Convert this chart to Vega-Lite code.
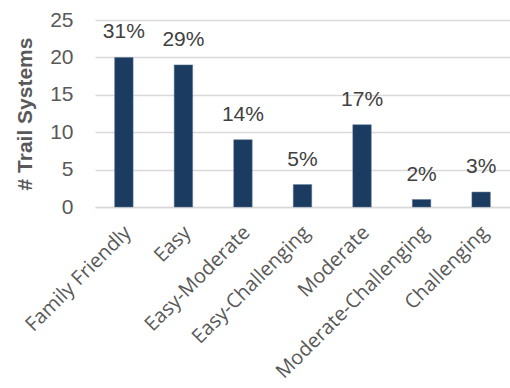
{
  "$schema": "https://vega.github.io/schema/vega-lite/v6.json",
  "autosize": "none",
  "width": 415,
  "height": 187,
  "padding": {"left": 95, "top": 20, "right": 0, "bottom": 181},
  "background": "white",
  "data": {"values": [
    {"cat": "Family Friendly", "n": 20, "pct": "31%"},
    {"cat": "Easy", "n": 19, "pct": "29%"},
    {"cat": "Easy-Moderate", "n": 9, "pct": "14%"},
    {"cat": "Easy-Challenging", "n": 3, "pct": "5%"},
    {"cat": "Moderate", "n": 11, "pct": "17%"},
    {"cat": "Moderate-Challenging", "n": 1, "pct": "2%"},
    {"cat": "Challenging", "n": 2, "pct": "3%"}
  ]},
  "config": {
    "view": {"stroke": null},
    "font": "Liberation Sans"
  },
  "encoding": {
    "x": {
      "field": "cat", "type": "nominal", "sort": null,
      "scale": {"paddingInner": 0.69, "paddingOuter": 0.33},
      "axis": {
        "title": null, "labelAngle": -45, "labelFontSize": 20, "labelColor": "#595959",
        "labelFont": "Open Sans",
        "ticks": false, "domainColor": "#d9d9d9", "domainWidth": 1.5, "labelPadding": 15,
        "labelOffset": -3,
        "labelLimit": 400
      }
    },
    "y": {
      "field": "n", "type": "quantitative",
      "scale": {"domain": [0, 25]},
      "axis": {
        "values": [0, 5, 10, 15, 20, 25], "title": "# Trail Systems",
        "titleFontSize": 21, "titleFontWeight": "bold", "titleColor": "#595959",
        "titlePadding": 14,
        "labelFontSize": 21, "labelColor": "#595959", "labelPadding": 22,
        "ticks": false, "domain": false,
        "gridColor": "#d9d9d9", "gridWidth": 1.5
      }
    }
  },
  "layer": [
    {"mark": {"type": "bar", "color": "#1b3b60", "stroke": "#5a7594", "strokeWidth": 0.5}},
    {"mark": {"type": "text", "baseline": "bottom", "dy": -15, "fontSize": 21, "color": "#404040"},
     "encoding": {"text": {"field": "pct"}}}
  ]
}
